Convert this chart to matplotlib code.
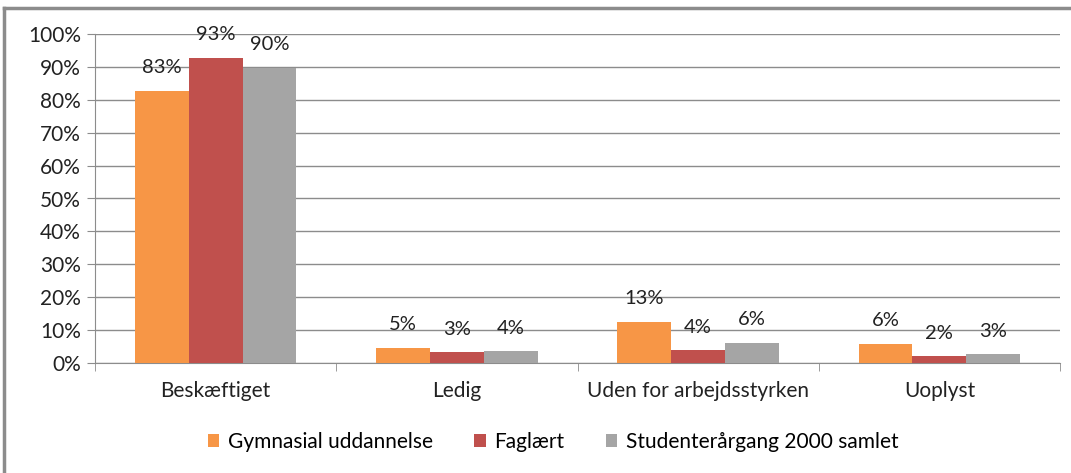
import matplotlib.pyplot as plt
import numpy as np
from matplotlib.lines import Line2D
from matplotlib.patches import Patch

categories = ["Beskæftiget", "Ledig", "Uden for arbejdsstyrken", "Uoplyst"]
series_names = ["Gymnasial uddannelse", "Faglært", "Studenterårgang 2000 samlet"]
gymnasial = [82.8, 4.6, 12.6, 5.9]
faglaert = [92.8, 3.3, 3.8, 2.0]
samlet = [89.8, 3.6, 6.2, 2.6]
series = [gymnasial, faglaert, samlet]
colors = ["#F79646", "#C0504D", "#A5A5A5"]
yticks = [0, 10, 20, 30, 40, 50, 60, 70, 80, 90, 100]

plt.rcParams['font.family'] = ['Lato', 'DejaVu Sans']

W, H = 1071, 473
fig = plt.figure(figsize=(W / 100, H / 100), dpi=100)
ax = fig.add_axes([95 / W, 1 - 363 / H, (1060 - 95) / W, (363 - 34) / H])

x = np.arange(len(categories))
bw = 0.223
for i, (vals, c) in enumerate(zip(series, colors)):
    pos = x + (i - 1) * bw
    ax.bar(pos, vals, width=bw, color=c, zorder=3)
    for p, v in zip(pos, vals):
        ax.annotate(f"{int(round(v))}%", (p, v), xytext=(0, 16.5), textcoords='offset points',
                    ha='center', va='center', fontsize=14.5, color='#222222')

ax.set_xlim(-0.5, len(categories) - 0.5)
ax.set_ylim(0, 100)
ax.set_yticks(yticks)
ax.set_yticklabels([f"{t}%" for t in yticks], fontsize=15, color='#222222')
ax.yaxis.grid(True, color='#8c8c8c', linewidth=1, zorder=0)
ax.set_axisbelow(True)
ax.set_xticks(x)
ax.set_xticklabels(categories, fontsize=15, color='#222222')
ax.tick_params(axis='x', length=0, pad=13)
ax.tick_params(axis='y', length=6, color='#8c8c8c', pad=4)
ax.set_xticks(np.arange(-0.5, len(categories)), minor=True)
ax.tick_params(axis='x', which='minor', length=6, color='#8c8c8c')
for s in ['top', 'right']:
    ax.spines[s].set_visible(False)
for s in ['left', 'bottom']:
    ax.spines[s].set_color('#8c8c8c')

handles = [Patch(facecolor=c, label=n) for c, n in zip(colors, series_names)]
fig.legend(handles=handles, loc='center', bbox_to_anchor=(553 / W, 1 - 442 / H), ncol=3,
           frameon=False, fontsize=15, handlelength=0.55, handleheight=0.55,
           handletextpad=0.4, columnspacing=2.0)

fig.add_artist(Line2D([4 / W, 4 / W], [0, 1 - 8 / H], transform=fig.transFigure, color='#8c8c8c', linewidth=2.5))
fig.add_artist(Line2D([4 / W, 1], [1 - 8 / H, 1 - 8 / H], transform=fig.transFigure, color='#8c8c8c', linewidth=2.5))

fig.savefig("out.png", dpi=100)
